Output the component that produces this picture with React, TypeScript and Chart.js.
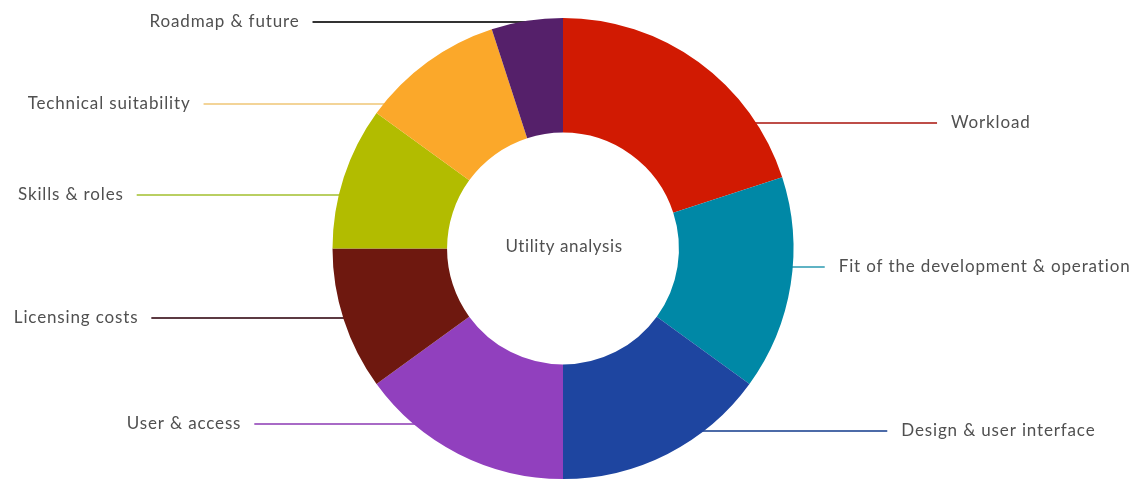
import React, { useEffect, useRef } from "react";
import { Chart, registerables } from "chart.js";

Chart.register(...registerables);

const categories = [
  "Workload",
  "Fit of the development & operation",
  "Design & user interface",
  "User & access",
  "Licensing costs",
  "Skills & roles",
  "Technical suitability",
  "Roadmap & future",
];
const shares = [20, 15, 15, 15, 10, 10, 10, 5];
const centerTitle = "Utility analysis";

const segmentColors = [
  "#D11A02",
  "#0088A6",
  "#1E45A0",
  "#9140BE",
  "#6E180F",
  "#B2BC00",
  "#FBA82A",
  "#55206A",
];
const leaderColors = [
  "#BE4D48",
  "#5FB3C4",
  "#4C6BA8",
  "#A86AC6",
  "#5C3A42",
  "#B9CF62",
  "#F3D498",
  "#333333",
];
// label layout: where on the arc the leader attaches (fraction of the slice) and leader length
const leaderAnchor = [0.79, 0.42, 0.3, 0.75, 0.51, 0.37, 0.08, 0.41];
const leaderLength = [181, 32, 183, 159, 192, 202, 180, 208];

const FONT = '17px Lato, "Open Sans", sans-serif';

function geom(arc: any, i: number) {
  const { x, y, startAngle, endAngle, outerRadius } = arc.getProps(
    ["x", "y", "startAngle", "endAngle", "outerRadius"],
    true
  );
  const a = startAngle + leaderAnchor[i] * (endAngle - startAngle);
  const ay = Math.round(y + outerRadius * Math.sin(a));
  const ax = x + outerRadius * Math.cos(a);
  const right = Math.cos(a) >= 0;
  const ex = right ? ax + leaderLength[i] : ax - leaderLength[i];
  return { x, y, ax, ay, ex, right };
}

const labelPlugin = {
  id: "leaderLabels",
  beforeDatasetsDraw(chart: any) {
    const ctx = chart.ctx;
    const meta = chart.getDatasetMeta(0);
    ctx.save();
    meta.data.forEach((arc: any, i: number) => {
      const g = geom(arc, i);
      const sx = g.right ? g.ax - 8 : g.ax + 8;
      ctx.beginPath();
      ctx.strokeStyle = leaderColors[i];
      ctx.lineWidth = 2;
      ctx.moveTo(sx, g.ay);
      ctx.lineTo(g.ex, g.ay);
      ctx.stroke();
    });
    ctx.restore();
  },
  afterDraw(chart: any) {
    const ctx = chart.ctx;
    const meta = chart.getDatasetMeta(0);
    ctx.save();
    ctx.font = FONT;
    (ctx as any).letterSpacing = "0.85px";
    ctx.fillStyle = "#505050";
    ctx.textBaseline = "middle";
    let cx = 0;
    let cy = 0;
    meta.data.forEach((arc: any, i: number) => {
      const g = geom(arc, i);
      cx = g.x;
      cy = g.y;
      ctx.textAlign = g.right ? "left" : "right";
      ctx.fillText(categories[i], g.right ? g.ex + 14 : g.ex - 13, g.ay);
    });
    (ctx as any).letterSpacing = "0.6px";
    ctx.textAlign = "center";
    ctx.fillText(centerTitle, cx + 1, cy - 2);
    ctx.restore();
  },
};

export default function App() {
  const ref = useRef<HTMLCanvasElement | null>(null);
  useEffect(() => {
    if (!ref.current) return;
    const chart = new Chart(ref.current, {
      type: "doughnut",
      data: {
        labels: categories,
        datasets: [
          {
            data: shares,
            backgroundColor: segmentColors,
            borderWidth: 0,
          },
        ],
      },
      options: {
        responsive: false,
        animation: false,
        cutout: "50.3%",
        layout: { padding: { top: 18, bottom: 0, left: 0, right: 14 } },
        plugins: {
          legend: { display: false },
          tooltip: { enabled: false },
        },
      },
      plugins: [labelPlugin],
    });
    return () => chart.destroy();
  }, []);
  return (
    <div style={{ position: "fixed", left: 0, top: 0, width: 1140, height: 479, background: "#fff" }}>
      <canvas ref={ref} width={1140} height={479} style={{ width: 1140, height: 479 }} />
    </div>
  );
}
